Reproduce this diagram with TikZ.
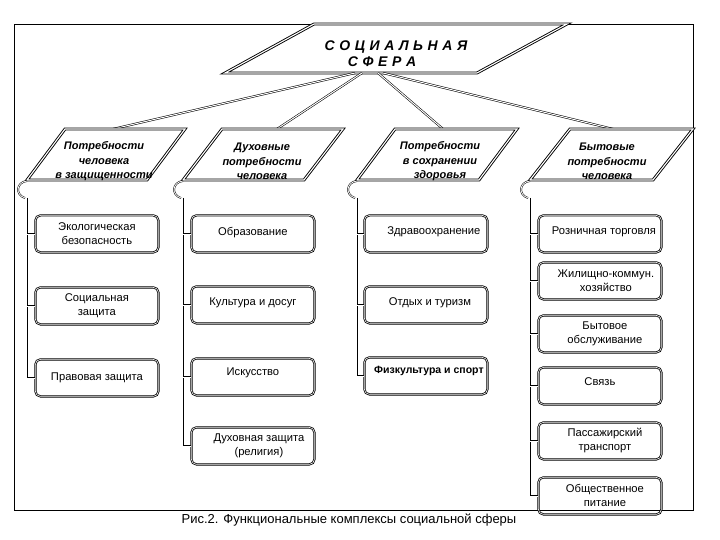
\documentclass[tikz,border=0pt]{standalone}
\usepackage{fontspec}
\setmainfont{Liberation Sans}
\newcommand\tsp{\hspace{4.6pt}}
\begin{document}
\begin{tikzpicture}[x=1pt,y=-1pt,
  frame/.style={draw, line width=0.8pt},
  para/.style={draw, line width=0.9pt, double, double distance=1.1pt, line join=miter},
  link/.style={draw, line width=0.55pt, double, double distance=1pt},
  box/.style={draw, line width=0.8pt, double, double distance=0.6pt, rounded corners=5pt,
    minimum width=123pt, minimum height=37pt, anchor=north west, inner sep=1pt,
    align=center, font=\fontsize{11.2}{14}\selectfont},
  trunk/.style={draw, line width=0.9pt},
  stub/.style={draw, line width=0.55pt, double, double distance=0.8pt},
  hook/.style={draw, line width=0.5pt, double, double distance=0.8pt},
  ptext/.style={font=\fontsize{11}{14.5}\selectfont\bfseries\itshape, align=center},
  ttext/.style={font=\fontsize{14}{16}\selectfont\bfseries\itshape},
]
\useasboundingbox (0,0) rectangle (720,540);
\fill[white] (0,0) rectangle (720,540);

% frame
\draw[frame] (14,24) rectangle (693,510);

% top parallelogram
\draw[para, fill=white] (314,24) -- (567,24) -- (477,73) -- (225,73) -- cycle;
\node[ttext] (tl1) at (396,47) {С\tsp О\tsp Ц\tsp И\tsp А\tsp Л\tsp Ь\tsp Н\tsp А\tsp Я};
\node[ttext] (tl2) at (382,62) {С\tsp Ф\tsp Е\tsp Р\tsp А};

\coordinate (s1) at (355,73);
\coordinate (s2) at (362,73);
\coordinate (s3) at (378,73);
\coordinate (s4) at (383,73);

% second-level parallelograms
\coordinate (p1) at (113,129);
\coordinate (p2) at (277,129);
\coordinate (p3) at (443,129);
\coordinate (p4) at (613,129);

\draw[link] (s1) -- (p1);
\draw[link] (s2) -- (p2);
\draw[link] (s3) -- (p3);
\draw[link] (s4) -- (p4);

\draw[para, fill=white] (65,129) -- (185,129) -- (147,180) -- (27,180) -- cycle;
\draw[para, fill=white] (222,129) -- (343,129) -- (304,180) -- (183,180) -- cycle;
\draw[para, fill=white] (395,129) -- (517,129) -- (479,180) -- (357,180) -- cycle;
\draw[para, fill=white] (570,129) -- (693,129) -- (653,180) -- (530,180) -- cycle;

\node[ptext] (n1) at (104,161.5) {Потребности\\человека\\в защищенности};
\node[ptext] (n2) at (262,161.5) {Духовные\\потребности\\человека};
\node[ptext] (n3) at (440,161.5) {Потребности\\в сохранении\\здоровья};
\node[ptext] (n4) at (607,161.5) {Бытовые\\потребности\\человека};

% hooks
\foreach \bx/\nm in {27/k1,183/k2,357/k3,530/k4}{
  \draw[hook] (\bx,181) .. controls (\bx-11,182) and (\bx-12,195) .. (\bx-2,198);
  \coordinate (\nm) at (\bx,198);
}

% column 1 boxes
\node[box] (b11) at (35,215) {Экологическая\\безопасность};
\node[box] (b12) at (35,287) {Социальная\\защита};
\node[box] (b13) at (35,359) {Правовая защита};

% column 2 boxes
\node[box] (b21) at (191,215) {\raisebox{6pt}{Образование}};
\node[box] (b22) at (191,286) {\raisebox{7pt}{Культура и досуг}};
\node[box] (b23) at (191,358) {\raisebox{10pt}{Искусство}};
\node[box] (b24) at (191,427) {\hspace*{12pt}Духовная защита\\\hspace*{12pt}(религия)};

% column 3 boxes
\node[box] (b31) at (364,215) {\raisebox{6pt}{\hspace*{16pt}Здравоохранение}};
\node[box] (b32) at (364,286) {\raisebox{7pt}{\hspace*{8pt}Отдых и туризм}};
\node[box] (b33) at (364,357) {\raisebox{12pt}{\fontsize{10.5}{13}\selectfont\bfseries\hspace*{6pt}Физкультура и спорт}};

% column 4 boxes
\node[box] (b41) at (538,215) {\raisebox{6pt}{\hspace*{8pt}Розничная торговля}};
\node[box] (b42) at (538,262) {\hspace*{12pt}Жилищно-коммун.\\\hspace*{12pt}хозяйство};
\node[box] (b43) at (538,315) {\hspace*{10pt}Бытовое\\\hspace*{10pt}обслуживание};
\node[box] (b44) at (538,367) {\raisebox{8pt}{Связь}};
\node[box] (b45) at (538,422) {\hspace*{10pt}Пассажирский\\\hspace*{10pt}транспорт};
\node[box] (b46) at (538,477) {\hspace*{10pt}Общественное\\\hspace*{10pt}питание};

% trunks
\draw[trunk] (k1) |- (b13.west);
\draw[trunk] (k2) |- (b24.west);
\draw[trunk] (k3) |- (b33.west);
\draw[trunk] (k4) |- (b46.west);

% stubs
\foreach \b/\k in {b11/k1,b12/k1,b13/k1,b21/k2,b22/k2,b23/k2,b24/k2,b31/k3,b32/k3,b33/k3,b41/k4,b42/k4,b43/k4,b44/k4,b45/k4,b46/k4}{
  \draw[stub] (\b.west -| \k) -- (\b.west);
}

% caption
\node[font=\fontsize{13}{15}\selectfont] (cap) at (349,520) {Рис.2. Функциональные комплексы социальной сферы};
\end{tikzpicture}
\end{document}
